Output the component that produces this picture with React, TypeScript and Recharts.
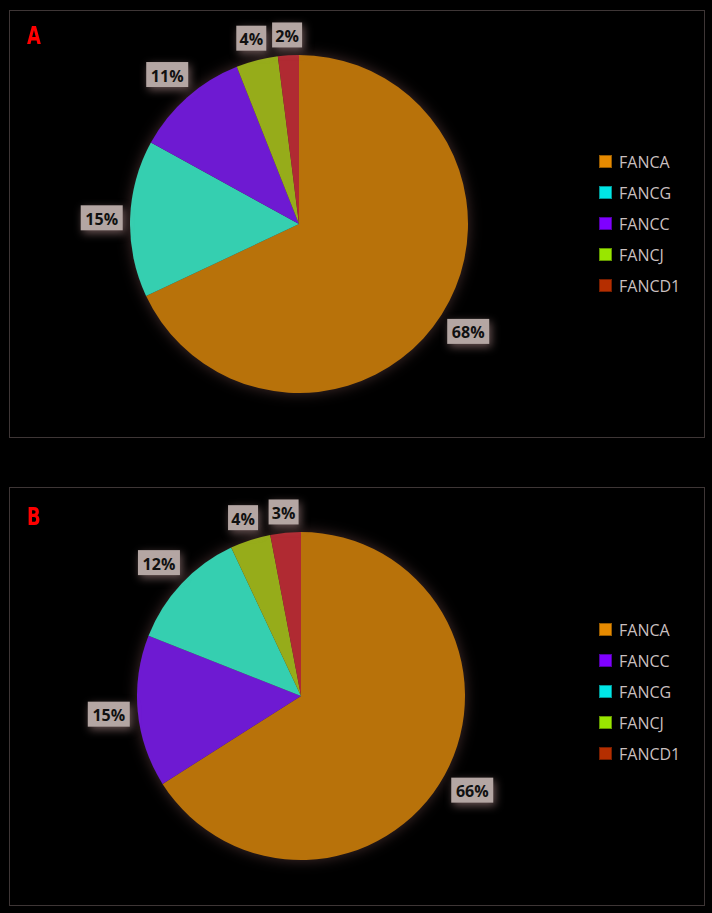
import React from 'react';
import { PieChart, Pie, Cell, Legend } from 'recharts';

const categoriesA = ['FANCA', 'FANCG', 'FANCC', 'FANCJ', 'FANCD1'];
const valuesA = [68, 15, 11, 4, 2];
const categoriesB = ['FANCA', 'FANCC', 'FANCG', 'FANCJ', 'FANCD1'];
const valuesB = [66, 15, 12, 4, 3];

const sliceColors: Record<string, string> = {
  FANCA: '#B8720A',
  FANCG: '#35CFB0',
  FANCC: '#6E1AD2',
  FANCJ: '#96AC1A',
  FANCD1: '#B02A32',
};
const legendColors: Record<string, string> = {
  FANCA: '#E68A00',
  FANCG: '#00E6E6',
  FANCC: '#7F00FF',
  FANCJ: '#99E600',
  FANCD1: '#B52E00',
};

const RAD = Math.PI / 180;

const renderLabel = (props: any) => {
  const { cx, cy, midAngle, outerRadius, value } = props;
  const text = `${value}%`;
  const hw = text.length >= 3 ? 21 : 15;
  const hh = 12.5;
  const c = Math.cos(-midAngle * RAD);
  const s = Math.sin(-midAngle * RAD);
  const dist = outerRadius + 7 + Math.abs(c) * hw + Math.abs(s) * hh;
  const x = cx + dist * c;
  const y = cy + dist * s;
  return (
    <g>
      <rect
        x={x - hw}
        y={y - hh}
        width={hw * 2}
        height={hh * 2}
        fill="#B4A6A3"
        style={{ filter: 'drop-shadow(2px 3px 4px rgba(190,150,150,0.55))' }}
      />
      <text
        x={x}
        y={y + 1}
        textAnchor="middle"
        dominantBaseline="central"
        fontFamily="'Open Sans', sans-serif"
        fontWeight={700}
        fontSize={16}
        fill="#111"
      >
        {text}
      </text>
    </g>
  );
};

const makeLegend = (cats: string[]) => () => (
  <div>
    {cats.map((c) => (
      <div
        key={c}
        style={{
          height: 31,
          display: 'flex',
          alignItems: 'center',
          fontFamily: "'Open Sans', sans-serif",
          fontSize: 16,
          color: '#C9BFBF',
        }}
      >
        <span
          style={{
            display: 'inline-block',
            width: 11,
            height: 11,
            background: legendColors[c],
            border: '1px solid rgba(0,0,0,0.35)',
            marginRight: 7,
          }}
        />
        {c}
      </div>
    ))}
  </div>
);

const Panel = ({
  cats,
  vals,
  cx,
  cy,
  r,
  legendTop,
}: {
  cats: string[];
  vals: number[];
  cx: number;
  cy: number;
  r: number;
  legendTop: number;
}) => {
  const data = cats.map((name, i) => ({ name, value: vals[i] }));
  return (
    <PieChart width={712} height={460} margin={{ top: 0, right: 0, bottom: 0, left: 0 }}>
      <Pie
        data={data}
        dataKey="value"
        nameKey="name"
        cx={cx}
        cy={cy}
        outerRadius={r}
        startAngle={90}
        endAngle={-270}
        stroke="none"
        labelLine={false}
        label={renderLabel}
        isAnimationActive={false}
      >
        {data.map((d) => (
          <Cell key={d.name} fill={sliceColors[d.name]} />
        ))}
      </Pie>
      <Legend
        content={makeLegend(cats)}
        wrapperStyle={{ position: 'absolute', left: 599, top: legendTop, width: 110 }}
      />
    </PieChart>
  );
};

const panelLetter: React.CSSProperties = {
  position: 'absolute',
  left: 27,
  color: '#FF0000',
  fontFamily: "'Liberation Sans Narrow', 'DejaVu Sans Condensed', sans-serif",
  fontWeight: 700,
  fontSize: 25,
  lineHeight: '30px',
  transform: 'scaleX(0.8)',
  transformOrigin: 'left top',
};

export default function App() {
  return (
    <div
      style={{
        position: 'absolute',
        left: 0,
        top: 0,
        width: 712,
        height: 913,
        background: '#000',
        overflow: 'hidden',
      }}
    >
      <style>{`.recharts-pie { filter: drop-shadow(0 0 7px rgba(120,80,80,0.55)); }`}</style>
      <div
        style={{
          position: 'absolute',
          left: 9,
          top: 10,
          width: 694,
          height: 426,
          border: '1px solid #3E3636',
        }}
      />
      <div
        style={{
          position: 'absolute',
          left: 9,
          top: 487,
          width: 694,
          height: 417,
          border: '1px solid #3E3636',
        }}
      />
      <div style={{ position: 'absolute', left: 0, top: 0 }}>
        <Panel cats={categoriesA} vals={valuesA} cx={299} cy={224} r={169} legendTop={146} />
      </div>
      <div style={{ position: 'absolute', left: 0, top: 460 }}>
        <Panel cats={categoriesB} vals={valuesB} cx={301} cy={236} r={164} legendTop={154} />
      </div>
      <div style={{ ...panelLetter, top: 21 }}>A</div>
      <div style={{ ...panelLetter, top: 502 }}>B</div>
    </div>
  );
}
